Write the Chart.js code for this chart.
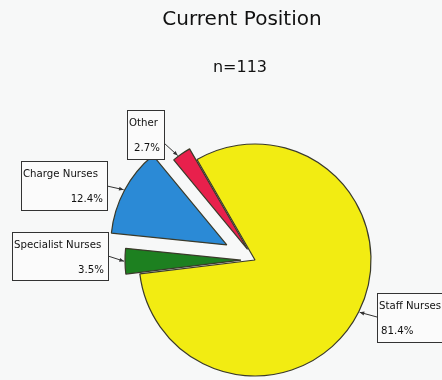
<!DOCTYPE html>
<html>
<head>
<meta charset="utf-8">
<script src="https://cdn.jsdelivr.net/npm/chart.js@4/dist/chart.umd.min.js"></script>
<style>
  html, body { margin: 0; padding: 0; background: #f7f8f8; }
  #wrap { position: relative; width: 442px; height: 380px; }
</style>
</head>
<body>
<div id="wrap"><canvas id="posChart"></canvas></div>
<script>
// data (n = 113)
const categories = ['Staff Nurses', 'Specialist Nurses', 'Charge Nurses', 'Other'];
const counts = [92, 4, 14, 3];
const chartTitle = 'Current Position';
const chartSubtitle = 'n=113';

const total = counts.reduce((a, b) => a + b, 0);

// how far each slice is pulled out of the pie, in pixels
const explodeBy = [0, 14, 32, 13];

// callout boxes: [x, y, w, h, second-line align, arrow start x, arrow start y, point along arc]
const callouts = {
    'Staff Nurses':      [377, 293, 80, 49, 'left', 377, 317, 0.5],
    'Specialist Nurses': [12, 232, 96, 48, 'right', 108, 256, 0.5],
    'Charge Nurses':     [21, 161, 86, 49, 'right', 107, 186, 0.5],
    'Other':             [127, 110, 37, 49, 'right', 164, 143, 0.3]
};

const calloutPlugin = {
    id: 'callouts',
    afterDatasetUpdate(chart) {
        // Excel style explosion: move the whole slice along its bisector
        chart.getDatasetMeta(0).data.forEach((arc, i) => {
            const d = explodeBy[i] || 0;
            const mid = (arc.startAngle + arc.endAngle) / 2;
            arc.x += Math.cos(mid) * d;
            arc.y += Math.sin(mid) * d;
        });
    },
    beforeDraw(chart) {
        const ctx = chart.ctx;
        ctx.save();
        ctx.fillStyle = '#111';
        ctx.textAlign = 'center';
        ctx.textBaseline = 'alphabetic';
        ctx.font = '20px "DejaVu Sans"';
        ctx.fillText(chartTitle, 242, 25);
        ctx.font = '16px "DejaVu Sans"';
        ctx.fillText(chartSubtitle, 240, 72);
        ctx.restore();
    },
    afterDatasetsDraw(chart) {
        const ctx = chart.ctx;
        const meta = chart.getDatasetMeta(0);
        ctx.save();
        meta.data.forEach((arc, i) => {
            const name = categories[i];
            const c = callouts[name];
            if (!c) return;
            const [bx, by, bw, bh, align, sx, sy, frac] = c;
            const a = arc.startAngle + (arc.endAngle - arc.startAngle) * frac;
            const r = arc.outerRadius + 1;
            const tx = arc.x + Math.cos(a) * r;
            const ty = arc.y + Math.sin(a) * r;

            // box
            ctx.fillStyle = '#fbfbfb';
            ctx.fillRect(bx, by, bw, bh);
            ctx.strokeStyle = '#333';
            ctx.lineWidth = 1;
            ctx.strokeRect(bx + 0.5, by + 0.5, bw, bh);

            // text
            ctx.fillStyle = '#111';
            ctx.font = '10.2px "DejaVu Sans"';
            ctx.textAlign = 'left';
            ctx.fillText(name, bx + 2, by + 16);
            const pct = (counts[i] / total * 100).toFixed(1) + '%';
            if (align === 'right') {
                ctx.textAlign = 'right';
                ctx.fillText(pct, bx + bw - 4, by + 41);
            } else {
                ctx.fillText(pct, bx + 4, by + 41);
            }

            // leader with arrow head
            ctx.strokeStyle = '#333';
            ctx.beginPath();
            ctx.moveTo(sx, sy);
            ctx.lineTo(tx, ty);
            ctx.stroke();
            const ang = Math.atan2(ty - sy, tx - sx);
            ctx.fillStyle = '#333';
            ctx.beginPath();
            ctx.moveTo(tx, ty);
            ctx.lineTo(tx - 5 * Math.cos(ang - 0.4), ty - 5 * Math.sin(ang - 0.4));
            ctx.lineTo(tx - 5 * Math.cos(ang + 0.4), ty - 5 * Math.sin(ang + 0.4));
            ctx.closePath();
            ctx.fill();
        });
        ctx.restore();
    }
};

const ctx = document.getElementById('posChart').getContext('2d');
new Chart(ctx, {
    type: 'pie',
    data: {
        labels: categories,
        datasets: [{
            data: counts,
            backgroundColor: ['#f2ec12', '#1d8020', '#2b8ad6', '#e8204c'],
            borderColor: '#3a3a2a',
            borderWidth: 1.2,
            clip: false
        }]
    },
    options: {
        responsive: true,
        maintainAspectRatio: false,
        animation: false,
        rotation: -30,
        radius: 116,
        layout: {
            padding: { left: 138, right: 70, top: 144, bottom: 4 }
        },
        plugins: {
            legend: { display: false },
            tooltip: { enabled: false },
            title: { display: false }
        }
    },
    plugins: [calloutPlugin]
});
</script>
</body>
</html>
